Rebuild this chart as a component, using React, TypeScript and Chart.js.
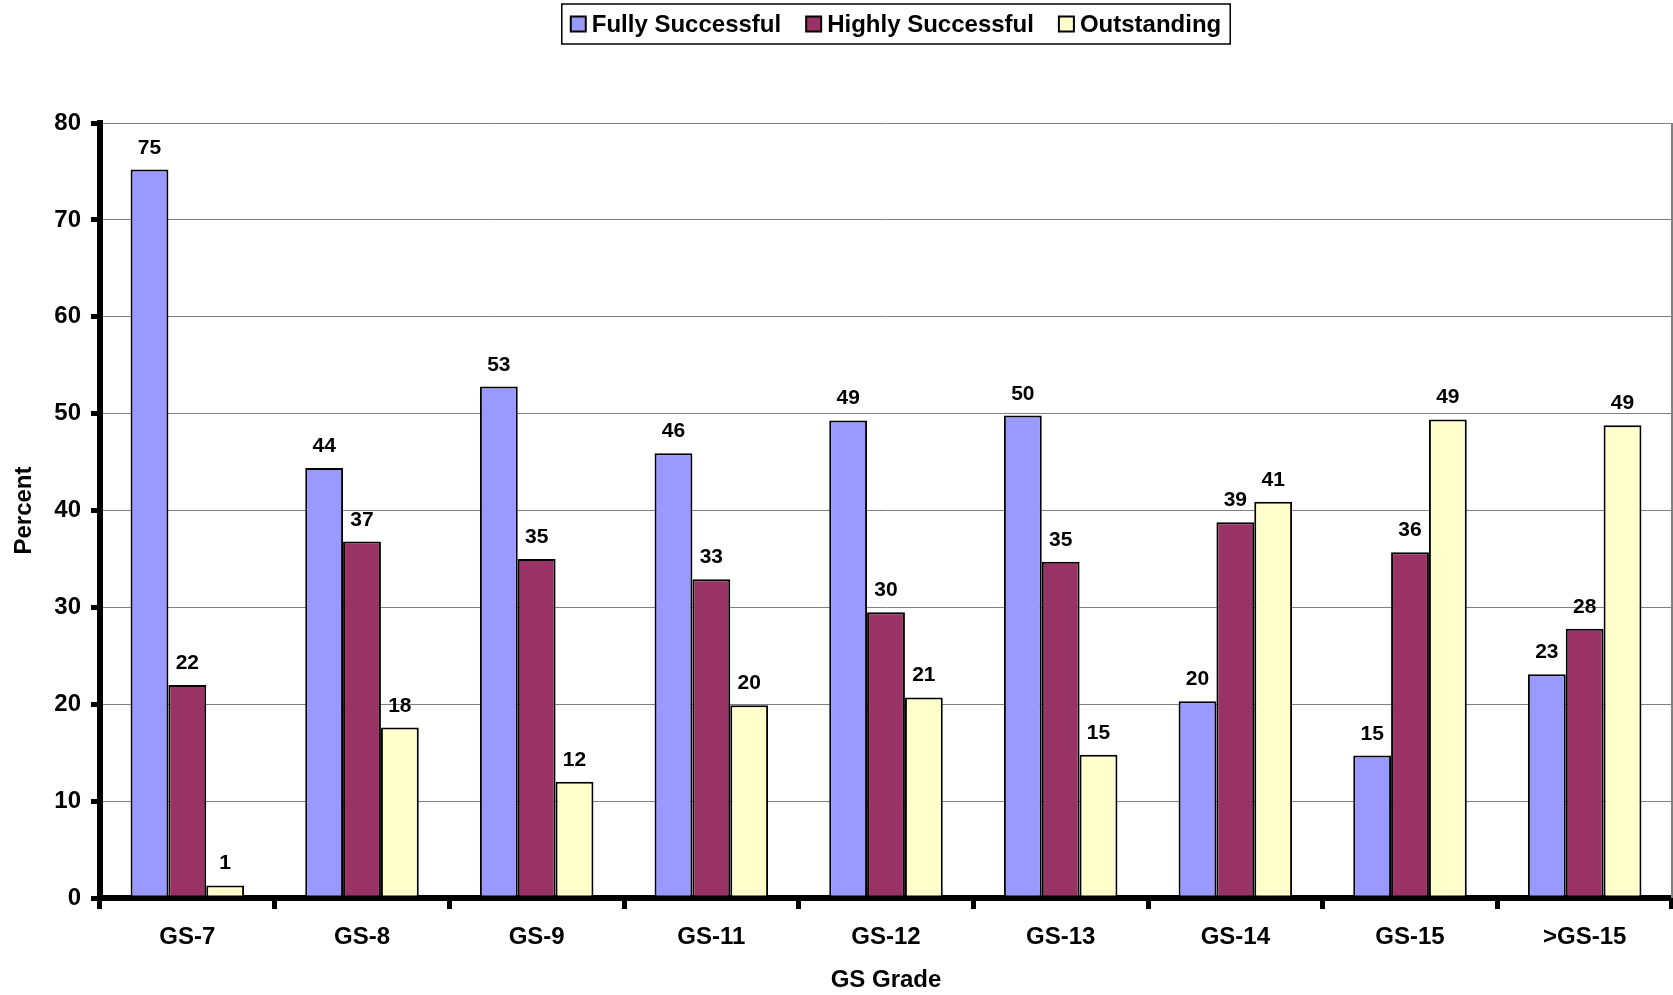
import React, { useEffect, useRef } from "react";
import { Chart, registerables } from "chart.js";

Chart.register(...registerables);

const categories = ["GS-7", "GS-8", "GS-9", "GS-11", "GS-12", "GS-13", "GS-14", "GS-15", ">GS-15"];
const fullySuccessful = [75.2, 44.4, 52.8, 45.9, 49.3, 49.8, 20.3, 14.7, 23.1];
const highlySuccessful = [22.0, 36.8, 35.0, 32.9, 29.5, 34.7, 38.8, 35.7, 27.8];
const outstanding = [1.3, 17.6, 12.0, 19.9, 20.7, 14.8, 40.9, 49.4, 48.8];
const seriesNames = ["Fully Successful", "Highly Successful", "Outstanding"];
const seriesColors = ["#9999FF", "#993366", "#FFFFCC"];
const yTicks = [0, 10, 20, 30, 40, 50, 60, 70, 80];

const FONT = "'Liberation Sans', Arial, sans-serif";

const valueLabels = {
  id: "valueLabels",
  afterDatasetsDraw(chart: any) {
    const ctx = chart.ctx;
    ctx.save();
    ctx.font = `bold 21px ${FONT}`;
    ctx.fillStyle = "#000";
    ctx.textAlign = "center";
    ctx.textBaseline = "alphabetic";
    chart.data.datasets.forEach((ds: any, i: number) => {
      const meta = chart.getDatasetMeta(i);
      meta.data.forEach((el: any, j: number) => {
        ctx.fillText(String(Math.round(ds.data[j])), el.x, el.y - 16);
      });
    });
    ctx.restore();
  },
};

const frameAndLegend = {
  id: "frameAndLegend",
  afterDraw(chart: any) {
    const ctx = chart.ctx;
    const a = chart.chartArea;
    ctx.save();
    ctx.strokeStyle = "#808080";
    ctx.lineWidth = 2;
    ctx.beginPath();
    ctx.moveTo(a.right, a.top);
    ctx.lineTo(a.right, a.bottom);
    ctx.stroke();

    // legend
    ctx.font = `bold 24px ${FONT}`;
    const box = 15;
    const gapBoxText = 6;
    const itemGap = 25;
    const widths = seriesNames.map((n) => ctx.measureText(n).width);
    const total = widths.reduce((s, w) => s + box + gapBoxText + w, 0) + itemGap * (seriesNames.length - 1);
    const padX = 9;
    const lw = total + padX * 2;
    const lx = 896 - lw / 2;
    const ly = 4;
    const lh = 40;
    ctx.fillStyle = "#fff";
    ctx.fillRect(lx, ly, lw, lh);
    ctx.strokeStyle = "#000";
    ctx.lineWidth = 1.5;
    ctx.strokeRect(lx, ly, lw, lh);
    let x = lx + padX;
    const cy = ly + lh / 2;
    seriesNames.forEach((n, i) => {
      ctx.fillStyle = seriesColors[i];
      ctx.fillRect(x, cy - box / 2, box, box);
      ctx.strokeStyle = "#000";
      ctx.lineWidth = 2;
      ctx.strokeRect(x, cy - box / 2, box, box);
      x += box + gapBoxText;
      ctx.fillStyle = "#000";
      ctx.textAlign = "left";
      ctx.textBaseline = "middle";
      ctx.fillText(n, x, cy + 1);
      x += widths[i] + itemGap;
    });
    ctx.restore();
  },
};

export default function App() {
  const ref = useRef<HTMLCanvasElement>(null);
  useEffect(() => {
    document.body.style.margin = "0";
    const canvas = ref.current!;
    const datasets = [fullySuccessful, highlySuccessful, outstanding].map((d, i) => ({
      label: seriesNames[i],
      data: d,
      backgroundColor: seriesColors[i],
      borderColor: "#000",
      borderWidth: 2,
      borderSkipped: false,
      categoryPercentage: 0.65,
      barPercentage: 1,
    }));
    const chart = new Chart(canvas, {
      type: "bar",
      data: { labels: categories, datasets },
      plugins: [valueLabels, frameAndLegend],
      options: {
        animation: false,
        responsive: false,
        devicePixelRatio: 1,
        layout: { padding: { top: 123, right: 1, left: 0, bottom: 0 } },
        plugins: {
          legend: { display: false },
          tooltip: { enabled: false },
        },
        scales: {
          x: {
            grid: {
              offset: true,
              drawOnChartArea: false,
              drawTicks: true,
              tickLength: 11,
              tickWidth: 5,
              tickColor: "#000",
            },
            border: { display: true, color: "#000", width: 6 },
            ticks: {
              color: "#000",
              font: { family: FONT, size: 24, weight: "bold" },
              padding: 14,
            },
            title: {
              display: true,
              text: "GS Grade",
              color: "#000",
              font: { family: FONT, size: 24, weight: "bold" },
              padding: { top: 12, bottom: 0 },
            },
            afterFit: (s: any) => {
              s.height = 97;
            },
          },
          y: {
            min: 0,
            max: 80,
            afterBuildTicks: (s: any) => {
              s.ticks = yTicks.map((v) => ({ value: v }));
            },
            grid: {
              color: "#808080",
              lineWidth: 1,
              drawTicks: true,
              tickLength: 9,
              tickWidth: 5,
              tickColor: "#000",
            },
            border: { display: true, color: "#000", width: 6 },
            ticks: {
              color: "#000",
              font: { family: FONT, size: 24, weight: "bold" },
              padding: 10,
            },
            title: {
              display: true,
              text: "Percent",
              color: "#000",
              font: { family: FONT, size: 24, weight: "bold" },
              padding: { top: 10, bottom: 0 },
            },
            afterFit: (s: any) => {
              s.width = 100;
            },
          },
        },
      },
    } as any);
    return () => chart.destroy();
  }, []);
  return <canvas ref={ref} width={1673} height={995} style={{ display: "block" }} />;
}
